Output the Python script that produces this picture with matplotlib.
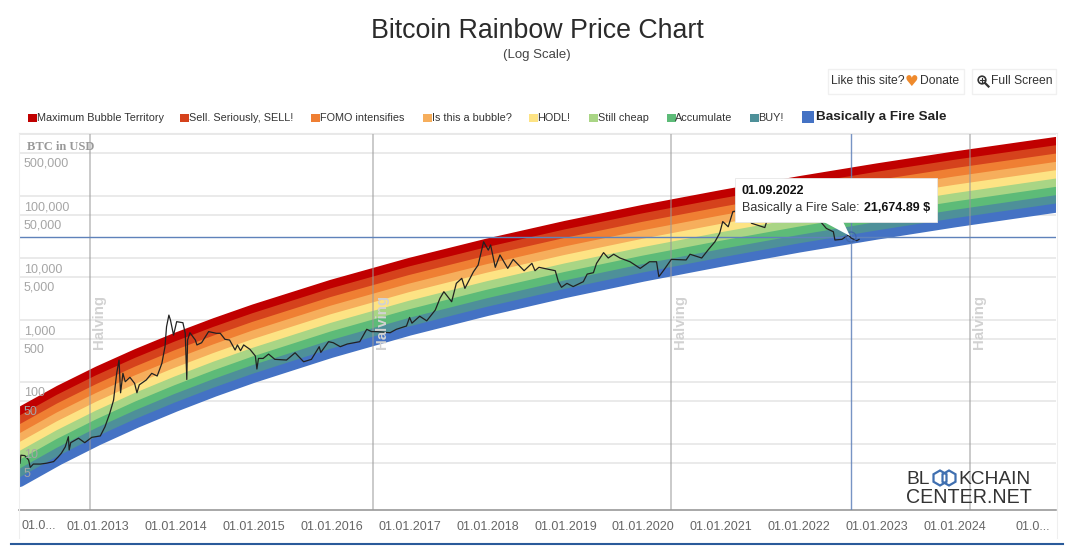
import matplotlib
matplotlib.use('Agg')
import matplotlib.pyplot as plt
from matplotlib.patches import Rectangle, Polygon, Circle, RegularPolygon
from matplotlib.ticker import NullLocator

plt.rcParams['font.family'] = ['Liberation Sans', 'DejaVu Sans']

# band dates, in years
band_years = [2012.0, 2012.5, 2013.0, 2013.5, 2014.0, 2014.5, 2015.0, 2016.0, 2017.0,
              2018.0, 2019.0, 2020.0, 2021.0, 2022.0, 2023.0, 2024.0, 2025.3]

max_bubble = [33.4, 74.3, 152, 291, 527, 910, 1510, 3770, 8470, 17400, 33500, 60800, 105000, 176000, 283000, 442000, 757000]
sell = [24.0, 53.5, 110, 210, 381, 659, 1094, 2737, 6160, 12670, 24430, 44400, 76770, 128800, 207300, 324100, 555600]
fomo = [17.3, 38.6, 79.1, 152, 276, 477, 793, 1988, 4480, 9230, 17820, 32430, 56120, 94300, 151900, 237700, 407800]
bubble = [12.4, 27.8, 57.1, 110, 199, 345, 575, 1443, 3258, 6722, 12990, 23680, 41030, 69000, 111300, 174300, 299300]
hodl = [8.95, 20.0, 41.2, 79.3, 144, 250, 417, 1048, 2370, 4896, 9476, 17290, 30000, 50500, 81500, 127800, 219700]
still_cheap = [6.44, 14.4, 29.7, 57.3, 104, 181, 302, 761, 1724, 3566, 6911, 12630, 21930, 36960, 59700, 93700, 161300]
accumulate = [4.63, 10.4, 21.4, 41.4, 75.4, 131, 219, 553, 1254, 2597, 5040, 9223, 16030, 27050, 43740, 68700, 118400]
buy = [3.33, 7.49, 15.5, 29.9, 54.5, 95, 159, 401, 912, 1891, 3676, 6736, 11720, 19800, 32040, 50400, 86900]
fire_sale = [2.40, 5.40, 11.2, 21.6, 39.4, 68.8, 115, 291, 663, 1377, 2681, 4919, 8570, 14490, 23470, 36950, 63800]

bands = [max_bubble, sell, fomo, bubble, hodl, still_cheap, accumulate, buy, fire_sale]
band_names = ['Maximum Bubble Territory', 'Sell. Seriously, SELL!', 'FOMO intensifies', 'Is this a bubble?',
              'HODL!', 'Still cheap', 'Accumulate', 'BUY!', 'Basically a Fire Sale']
band_colors = ['#c00000', '#d5421c', '#ef7f33', '#f6ae5c', '#fde384', '#a9d585', '#5dbb78', '#4e9099', '#4472c4']

# BTC price
price_years = [2012.0, 2012.01, 2012.06, 2012.11, 2012.13, 2012.17, 2012.26, 2012.34, 2012.43, 2012.49, 2012.53,
               2012.58, 2012.62, 2012.63, 2012.65, 2012.75, 2012.83, 2012.92, 2013.03, 2013.09, 2013.15, 2013.2,
               2013.24, 2013.27, 2013.29, 2013.32, 2013.35, 2013.41, 2013.47, 2013.5, 2013.53, 2013.62, 2013.69,
               2013.76, 2013.82, 2013.86, 2013.88, 2013.91, 2013.93, 2013.97, 2014.01, 2014.09, 2014.12, 2014.14,
               2014.15, 2014.18, 2014.25, 2014.27, 2014.33, 2014.42, 2014.52, 2014.57, 2014.63, 2014.69, 2014.76,
               2014.79, 2014.83, 2014.87, 2014.95, 2015.02, 2015.04, 2015.06, 2015.12, 2015.19, 2015.27, 2015.42,
               2015.53, 2015.64, 2015.74, 2015.84, 2015.86, 2015.96, 2016.02, 2016.11, 2016.2, 2016.36, 2016.45,
               2016.51, 2016.57, 2016.75, 2016.83, 2016.96, 2017.0, 2017.03, 2017.13, 2017.22, 2017.33, 2017.39,
               2017.44, 2017.54, 2017.6, 2017.67, 2017.71, 2017.82, 2017.88, 2017.95, 2018.01, 2018.04, 2018.1,
               2018.16, 2018.26, 2018.33, 2018.47, 2018.57, 2018.61, 2018.66, 2018.87, 2018.91, 2018.95, 2019.02,
               2019.1, 2019.23, 2019.28, 2019.36, 2019.4, 2019.49, 2019.55, 2019.62, 2019.7, 2019.83, 2019.96,
               2020.08, 2020.17, 2020.2, 2020.26, 2020.36, 2020.55, 2020.6, 2020.75, 2020.83, 2020.92, 2020.98,
               2021.02, 2021.09, 2021.15, 2021.28, 2021.39, 2021.56, 2021.6, 2021.85, 2022.0, 2022.25, 2022.35,
               2022.44, 2022.46, 2022.55, 2022.63, 2022.67, 2022.74, 2022.77]
price_usd = [4.9, 6.6, 6.5, 5.5, 4.2, 4.75, 4.75, 4.9, 5.2, 6.2, 7.1,
             9.0, 13.1, 8.0, 10.5, 12.4, 10.5, 12.8, 13.5, 19, 31, 51,
             138, 226, 67, 138, 101, 119, 95, 67, 90, 108, 138,
             125, 200, 371, 780, 1200, 1000, 572, 940, 904, 610, 110,
             475, 624, 475, 396, 430, 650, 610, 610, 488, 475, 328,
             396, 320, 396, 337, 263, 162, 240, 240, 282, 232, 226,
             296, 212, 232, 371, 300, 447, 430, 371, 410, 447, 708,
             650, 650, 624, 708, 800, 1100, 890, 1150, 970, 1450, 2240,
             2860, 1970, 3900, 4700, 3240, 6000, 7700, 18300, 13400, 16200, 7080,
             11200, 6800, 9500, 6240, 8200, 6240, 7080, 6240, 4150, 3370, 3900,
             3460, 4150, 5500, 5800, 8200, 12200, 10000, 11500, 10000, 8700, 6800,
             8700, 8700, 5000, 6300, 9500, 9300, 11500, 10000, 13400, 18300, 25000,
             38700, 31900, 56000, 60000, 36300, 31000, 45000, 65000, 46000, 42000, 30000,
             26500, 19500, 20000, 23500, 20900, 19000, 20000]

halving_years = [2012.90, 2016.53, 2020.36, 2024.19]
hover_year = 2022.67
hover_price = 21674.89

grid_values = [1000000, 500000, 100000, 50000, 10000, 5000, 1000, 500, 100, 50, 10, 5]
y_labels = ['500,000', '100,000', '50,000', '10,000', '5,000', '1,000', '500', '100', '50', '10', '5']
x_tick_years = list(range(2013, 2026))
x_tick_labels = ['01.01.%d' % y for y in range(2013, 2025)] + ['01.0...']

W, H = 1072, 552
fig = plt.figure(figsize=(W / 100, H / 100), dpi=100, facecolor='white')
ax = fig.add_axes([19 / W, (H - 510) / H, 1037 / W, 377 / H])

ax.set_yscale('log')
ax.set_xlim(2011.986, 2025.298)
ax.set_ylim(0.862, 1038000)
ax.set_yticks(grid_values)
ax.yaxis.set_minor_locator(NullLocator())
ax.set_yticklabels([])
ax.grid(axis='y', color='#e4e4e4', linewidth=1.1)
ax.set_axisbelow(True)
ax.tick_params(axis='both', length=0)
for side in ['top', 'left', 'right']:
    ax.spines[side].set_visible(False)
ax.spines['bottom'].set_color('#999999')
ax.spines['bottom'].set_linewidth(1.2)

ax.set_xticks(x_tick_years)
ax.set_xticklabels(x_tick_labels, fontsize=9, color='#666666')
ax.tick_params(axis='x', pad=8)

# rainbow, thick lines with round starts
for values, color in zip(bands, band_colors):
    ax.plot(band_years, values, color=color, linewidth=6.6, solid_capstyle='round', solid_joinstyle='round', zorder=3)

ax.plot(price_years, price_usd, color='#222222', linewidth=0.9, zorder=5)

for yr in halving_years:
    ax.axvline(yr, color='#999999', alpha=0.65, linewidth=1.1, zorder=4)
    ax.annotate('Halving', xy=(yr, 0), xycoords=ax.get_xaxis_transform(), xytext=(9, 161), textcoords='offset pixels',
                rotation=90, ha='center', va='bottom', fontsize=10.8, fontweight='bold', color='#d2d2d2', zorder=6)

ax.axvline(hover_year, color='#5f82ba', alpha=0.85, linewidth=1, zorder=4)
ax.axhline(hover_price, color='#5f82ba', linewidth=1, zorder=4)

for val, label in zip(grid_values[1:], y_labels):
    ax.annotate(label, xy=(0, val), xycoords=ax.get_yaxis_transform(), xytext=(5, -11), textcoords='offset pixels',
                ha='left', va='center', fontsize=9, color='#a6a6a6', zorder=7)

# everything around the plot, placed in pixels
over = fig.add_axes([0, 0, 1, 1], zorder=10)
over.set_xlim(0, W)
over.set_ylim(H, 0)
over.axis('off')
over.patch.set_alpha(0)

over.text(537.5, 31, 'Bitcoin Rainbow Price Chart', ha='center', va='center', fontsize=19.3, color='#2b2b2b')
over.text(537, 55, '(Log Scale)', ha='center', va='center', fontsize=9.5, color='#444444')

over.text(27, 147, 'BTC in USD', family='Liberation Serif', fontweight='bold', fontsize=9, color='#999999', va='center')
over.text(21, 526, '01.0...', fontsize=9, color='#666666', va='center')

# legend
marker_x = [28, 180, 311, 423, 529, 589, 667, 750]
text_x = [37, 189, 320, 432, 537, 598, 675, 758]
for mx, tx, name, color in zip(marker_x, text_x, band_names, band_colors):
    over.add_patch(Rectangle((mx, 113.5), 8.5, 8.5, facecolor=color, edgecolor='none'))
    over.text(tx, 118, name, fontsize=7.8, color='#333333', va='center')
over.add_patch(Rectangle((802, 110.5), 12, 12, facecolor=band_colors[-1], edgecolor='none'))
over.text(816, 117, band_names[-1], fontsize=9.7, fontweight='bold', color='#222222', va='center')

# buttons
over.add_patch(Rectangle((828, 69), 136, 25, facecolor='white', edgecolor='#f0f0f0', linewidth=1))
over.add_patch(Rectangle((972, 69), 84, 25, facecolor='white', edgecolor='#f0f0f0', linewidth=1))
over.text(831, 81.5, 'Like this site?', fontsize=8.7, color='#333333', va='center')
over.text(911, 81, '\u2665', family='DejaVu Sans', fontsize=11, color='#ef8a2c', ha='center', va='center')
over.text(920, 81.5, 'Donate', fontsize=8.7, color='#333333', va='center')
over.add_patch(Circle((982, 80), 3.8, facecolor='none', edgecolor='#333333', linewidth=1.2))
over.plot([985, 988.5], [83, 86.5], color='#333333', linewidth=1.6)
over.plot([980, 984], [80, 80], color='#333333', linewidth=0.8)
over.plot([982, 982], [78, 82], color='#333333', linewidth=0.8)
over.text(991, 81.5, 'Full Screen', fontsize=8.7, color='#333333', va='center')

# tooltip
over.add_patch(Circle((851, 237), 5, facecolor='none', edgecolor='#3f66a8', linewidth=0.9))
over.add_patch(Rectangle((734.5, 177.5), 202.5, 44.5, facecolor='white', edgecolor='#e6e6e6', linewidth=0.6))
over.add_patch(Polygon([(823, 221.5), (850, 236), (843, 221.5)], closed=True, facecolor='white', edgecolor='none'))
over.text(742, 191, '01.09.2022', fontsize=9, fontweight='bold', color='#111111', va='center')
over.text(742, 208, 'Basically a Fire Sale:', fontsize=9, color='#333333', va='center')
over.text(864, 208, '21,674.89 $', fontsize=9, fontweight='bold', color='#111111', va='center')

# logo
over.text(906, 484, 'BL', fontsize=13.8, color='#333333', va='baseline')
over.text(1031, 484, 'KCHAIN', fontsize=13.8, color='#333333', va='baseline', ha='right')
over.text(906, 503, 'CENTER.NET', fontsize=14.1, color='#333333', va='baseline')
over.add_patch(RegularPolygon((940, 478), 6, radius=7.5, facecolor='none', edgecolor='#3f6fb0', linewidth=1.6))
over.add_patch(RegularPolygon((949, 478), 6, radius=7.5, facecolor='none', edgecolor='#3f6fb0', linewidth=1.6))

# frame lines of the page
over.plot([19, 19], [133, 538], color='#efefef', linewidth=0.8)
over.plot([1057, 1057], [133, 538], color='#efefef', linewidth=0.8)
over.plot([19, 1057], [133, 133], color='#e8e8e8', linewidth=0.8)
over.plot([11, 1063], [544, 544], color='#2a5a9a', linewidth=1.5)

fig.savefig('out.png', dpi=100)
